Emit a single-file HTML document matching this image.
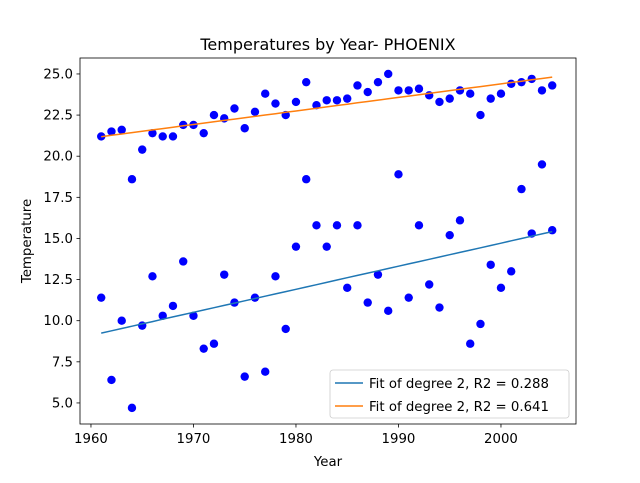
<!DOCTYPE html>
<html><head><meta charset="utf-8"><style>
body{margin:0;background:#fff;font-family:"Liberation Sans","DejaVu Sans",sans-serif}
svg text{font-family:"DejaVu Sans","Liberation Sans",sans-serif}
</style></head><body>
<svg id="c" width="640" height="478" xmlns="http://www.w3.org/2000/svg"></svg>
<script>
const years=[];for(let y=1961;y<=2005;y++)years.push(y);
const lowTemps=[11.4,6.4,10.0,4.7,9.7,12.7,10.3,10.9,13.6,10.3,8.3,8.6,12.8,11.1,6.6,11.4,6.9,12.7,9.5,14.5,18.6,15.8,14.5,15.8,12.0,15.8,11.1,12.8,10.6,18.9,11.4,15.8,12.2,10.8,15.2,16.1,8.6,9.8,13.4,12.0,13.0,18.0,15.3,19.5,15.5];
const highTemps=[21.2,21.5,21.6,18.6,20.4,21.4,21.2,21.2,21.9,21.9,21.4,22.5,22.3,22.9,21.7,22.7,23.8,23.2,22.5,23.3,24.5,23.1,23.4,23.4,23.5,24.3,23.9,24.5,25.0,24.0,24.0,24.1,23.7,23.3,23.5,24.0,23.8,22.5,23.5,23.8,24.4,24.5,24.7,24.0,24.3];
const xTicks=[1960,1970,1980,1990,2000];
const yTicks=[5.0,7.5,10.0,12.5,15.0,17.5,20.0,22.5,25.0];
const legendLabels=["Fit of degree 2, R2 = 0.288","Fit of degree 2, R2 = 0.641"];

const L=80,R=576,T=58,B=424;
const x0=1958.93,x1=2007.32,y0=3.72,y1=25.97;
const sx=v=>L+(v-x0)/(x1-x0)*(R-L);
const sy=v=>B-(v-y0)/(y1-y0)*(B-T);
const svg=document.getElementById('c');
const NS="http://www.w3.org/2000/svg";
function mk(tag,attrs,parent){const e=document.createElementNS(NS,tag);for(const k in attrs)e.setAttribute(k,attrs[k]);(parent||svg).appendChild(e);return e;}

function linfit(xs,ys){
  const n=xs.length,mx=xs.reduce((a,b)=>a+b)/n,my=ys.reduce((a,b)=>a+b)/n;
  let sxy=0,sxx=0;xs.forEach((x,i)=>{sxy+=(x-mx)*(ys[i]-my);sxx+=(x-mx)*(x-mx);});
  const b=sxy/sxx;return x=>my+b*(x-mx);
}

let e;
e=mk('text',{x:328,y:50,'text-anchor':'middle','font-size':16,fill:'#000'});e.textContent='Temperatures by Year- PHOENIX';



const dots=mk('g',{});


years.forEach((y,i)=>{
  [lowTemps[i],highTemps[i]].forEach((t,j)=>{
    const c=mk('circle',{cx:sx(y),cy:sy(t),r:4.2,fill:'#0000ff'},dots);
    
    
  });
});

const colors=['#1f77b4','#ff7f0e'];
[lowTemps,highTemps].forEach((ys,j)=>{
  const f=linfit(years,ys);
  const pts=years.map(y=>sx(y).toFixed(1)+','+sy(f(y)).toFixed(1)).join(' ');
  const p=mk('polyline',{points:pts,fill:'none',stroke:colors[j],'stroke-width':1.5});
  
  
});

e=mk('rect',{x:L,y:T,width:R-L,height:B-T,fill:'none',stroke:'#000','stroke-width':0.8});



const xa=mk('g',{});


xTicks.forEach(v=>{
  mk('line',{x1:sx(v),x2:sx(v),y1:B,y2:B+3.5,stroke:'#000','stroke-width':0.8},xa);
  const t=mk('text',{x:sx(v),y:B+19,'text-anchor':'middle','font-size':13.3,fill:'#000'},xa);t.textContent=v;
  
  
});
const ya=mk('g',{});


yTicks.forEach(v=>{
  mk('line',{x1:L-3.5,x2:L,y1:sy(v),y2:sy(v),stroke:'#000','stroke-width':0.8},ya);
  const t=mk('text',{x:L-7,y:sy(v)+4.5,'text-anchor':'end','font-size':13.3,fill:'#000'},ya);t.textContent=v.toFixed(1);
  
  
});
e=mk('text',{x:328,y:466,'text-anchor':'middle','font-size':13.3,fill:'#000'});e.textContent='Year';


e=mk('text',{x:0,y:0,'text-anchor':'middle','font-size':13.3,fill:'#000',transform:'translate(31,241) rotate(-90)'});e.textContent='Temperature';



const lg=mk('g',{});


mk('rect',{x:330,y:370,width:239,height:48,rx:3,fill:'#fff','fill-opacity':0.8,stroke:'#ccc','stroke-width':0.8},lg);
legendLabels.forEach((s,i)=>{
  const yy=383+i*23;
  mk('line',{x1:335,x2:363,y1:yy,y2:yy,stroke:colors[i],'stroke-width':1.5},lg);
  const t=mk('text',{x:369,y:yy+5,'font-size':13.3,fill:'#000'},lg);t.textContent=s;
  
  
});
</script>
</body></html>
